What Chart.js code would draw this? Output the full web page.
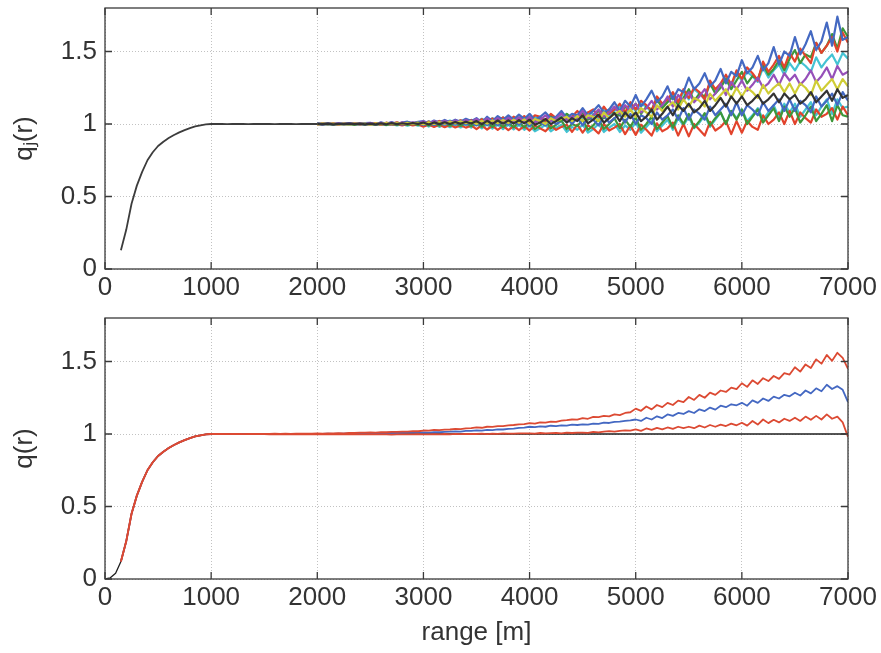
<!DOCTYPE html>
<html>
<head>
<meta charset="utf-8">
<script src="https://cdn.jsdelivr.net/npm/chart.js@4/dist/chart.umd.min.js"></script>
<style>
  html, body { margin: 0; padding: 0; background: #fff; }
  #wrap { position: relative; width: 881px; height: 653px; }
  canvas { position: absolute; left: 0; }
  #topChart { top: 0; }
  #botChart { top: 300px; }
</style>
</head>
<body>
<div id="wrap">
  <canvas id="topChart" width="881" height="320"></canvas>
  <canvas id="botChart" width="881" height="353"></canvas>
</div>
<script>
const xTicks = [0, 1000, 2000, 3000, 4000, 5000, 6000, 7000];
const yTicks = [0, 0.5, 1, 1.5];

// shared rise of all q_j(r), 150 m .. 2000 m
const commonRange = [150,200,250,300,350,400,450,500,550,600,650,700,750,800,850,900,950,1000,
  1050,1100,1150,1200,1250,1300,1350,1400,1450,1500,1550,1600,1650,1700,1750,1800,1850,1900,1950,2000];
const qjCommon = [0.13,0.27,0.45,0.575,0.67,0.75,0.805,0.848,0.878,0.903,0.924,0.942,0.958,0.972,0.983,0.991,0.997,1.0,
  1.0,1.001,0.999,1.0,1.001,1.0,0.999,1.001,1.0,1.0,1.001,0.999,1.0,1.001,1.0,0.999,1.0,1.001,1.0,1.0];

// theoretical q(r)
const theoryRange = [0,50,100,150,200,250,300,350,400,450,500,550,600,650,700,750,800,850,900,950,1000,7000];
const qTheory = [0,0.008,0.04,0.12,0.26,0.45,0.575,0.67,0.75,0.805,0.848,0.878,0.903,0.924,0.942,0.958,0.972,0.983,0.991,0.997,1.0,1.0];

const fineRange = [
  1000,1050,1100,1150,1200,1250,1300,1350,1400,1450,
  1500,1550,1600,1650,1700,1750,1800,1850,1900,1950,
  2000,2050,2100,2150,2200,2250,2300,2350,2400,2450,
  2500,2550,2600,2650,2700,2750,2800,2850,2900,2950,
  3000,3050,3100,3150,3200,3250,3300,3350,3400,3450,
  3500,3550,3600,3650,3700,3750,3800,3850,3900,3950,
  4000,4050,4100,4150,4200,4250,4300,4350,4400,4450,
  4500,4550,4600,4650,4700,4750,4800,4850,4900,4950,
  5000,5050,5100,5150,5200,5250,5300,5350,5400,5450,
  5500,5550,5600,5650,5700,5750,5800,5850,5900,5950,
  6000,6050,6100,6150,6200,6250,6300,6350,6400,6450,
  6500,6550,6600,6650,6700,6750,6800,6850,6900,6950,
  7000];
const noiseRange = fineRange.slice(20); // 2000 .. 7000

// individual q_j(r), 2000 .. 7000 m
const qjBlueHi = [
  1.002,0.997,1.004,0.999,1.005,0.998,1.006,1.001,0.999,1.006,
  1.008,0.998,1.011,1.002,1.013,1.000,1.009,1.016,1.004,1.015,
  1.02,1.003,1.024,1.01,1.028,1.012,1.03,1.015,1.036,1.02,
  1.04,1.01,1.05,1.02,1.055,1.028,1.06,1.03,1.065,1.035,
  1.07,1.03,1.05,1.08,1.04,1.05,1.09,1.04,1.07,1.06,
  1.11,1.06,1.09,1.13,1.08,1.1,1.15,1.09,1.16,1.12,
  1.2,1.12,1.17,1.23,1.15,1.19,1.26,1.17,1.24,1.22,
  1.32,1.24,1.28,1.35,1.26,1.3,1.38,1.28,1.36,1.33,
  1.44,1.35,1.39,1.47,1.37,1.42,1.53,1.41,1.5,1.47,
  1.6,1.48,1.55,1.64,1.51,1.57,1.7,1.54,1.74,1.58,
  1.6];
const qjRedHi = [
  0.998,1.003,0.999,1.004,0.997,1.003,1.001,1.005,0.998,1.004,
  1.001,1.007,0.996,1.009,1.001,1.011,0.999,1.01,1.003,1.012,
  1.0,1.017,1.004,1.021,1.006,1.019,1.009,1.026,1.011,1.028,
  1.01,1.034,1.012,1.038,1.02,1.045,1.018,1.05,1.025,1.055,
  1.02,1.06,1.05,1.02,1.07,1.04,1.08,1.03,1.05,1.09,
  1.05,1.08,1.1,1.05,1.12,1.07,1.1,1.14,1.08,1.15,
  1.1,1.16,1.13,1.09,1.19,1.14,1.17,1.22,1.15,1.24,
  1.18,1.25,1.22,1.17,1.3,1.24,1.28,1.34,1.27,1.37,
  1.31,1.39,1.35,1.3,1.43,1.36,1.41,1.47,1.39,1.49,
  1.43,1.52,1.47,1.42,1.56,1.49,1.54,1.6,1.5,1.63,
  1.56];
const qjGreenHi = [
  1.001,0.998,1.003,0.997,1.002,0.999,1.004,0.998,1.003,0.999,
  1.004,0.995,1.006,0.998,1.007,0.997,1.01,1.0,1.008,1.002,
  1.012,0.998,1.015,1.002,1.018,1.004,1.02,1.006,1.024,1.01,
  1.03,1.0,1.034,1.006,1.038,1.01,1.042,1.014,1.046,1.02,
  1.05,1.01,1.04,1.02,1.06,1.03,1.02,1.07,1.04,1.05,
  1.08,1.03,1.06,1.09,1.04,1.1,1.07,1.06,1.12,1.09,
  1.14,1.07,1.12,1.1,1.17,1.11,1.15,1.19,1.13,1.18,
  1.24,1.16,1.21,1.19,1.28,1.21,1.25,1.31,1.24,1.3,
  1.36,1.28,1.33,1.31,1.41,1.34,1.38,1.44,1.37,1.45,
  1.51,1.42,1.48,1.46,1.56,1.49,1.54,1.62,1.52,1.66,
  1.6];
const qjCyanHi = [
  0.999,1.003,0.998,1.002,1.0,1.004,0.997,1.003,1.001,1.005,
  0.998,1.006,1.0,1.009,0.999,1.01,1.002,1.012,1.003,1.011,
  1.004,1.018,1.005,1.02,1.01,1.024,1.008,1.026,1.012,1.028,
  1.014,1.036,1.016,1.04,1.02,1.045,1.022,1.048,1.026,1.05,
  1.02,1.05,1.04,1.01,1.06,1.03,1.05,1.07,1.03,1.06,
  1.04,1.08,1.07,1.04,1.1,1.06,1.09,1.12,1.07,1.13,
  1.09,1.14,1.12,1.08,1.17,1.13,1.16,1.2,1.14,1.22,
  1.17,1.24,1.21,1.17,1.28,1.23,1.27,1.32,1.26,1.35,
  1.3,1.36,1.33,1.29,1.39,1.32,1.37,1.41,1.34,1.42,
  1.37,1.43,1.4,1.36,1.46,1.39,1.44,1.48,1.41,1.49,
  1.45];
const qjPurple = [
  1.003,0.998,1.002,0.999,1.004,0.997,1.003,1.0,1.005,0.999,
  1.007,0.997,1.008,1.0,1.01,0.999,1.011,1.003,1.012,1.004,
  1.018,1.002,1.02,1.006,1.022,1.008,1.025,1.01,1.027,1.013,
  1.035,1.01,1.038,1.012,1.04,1.015,1.043,1.018,1.045,1.02,
  1.05,1.01,1.03,1.06,1.02,1.04,1.07,1.03,1.05,1.04,
  1.09,1.04,1.06,1.1,1.05,1.08,1.12,1.07,1.13,1.09,
  1.14,1.08,1.11,1.16,1.1,1.13,1.19,1.12,1.2,1.16,
  1.22,1.15,1.19,1.24,1.17,1.21,1.28,1.2,1.29,1.24,
  1.3,1.23,1.27,1.32,1.25,1.28,1.34,1.27,1.35,1.3,
  1.34,1.27,1.31,1.37,1.29,1.33,1.39,1.31,1.4,1.34,
  1.36];
const qjYellow = [
  0.998,1.002,0.999,1.003,0.998,1.001,0.997,1.002,0.999,1.003,
  0.996,1.004,0.997,1.006,0.998,1.007,1.0,1.008,1.001,1.009,
  0.998,1.012,1.0,1.014,1.002,1.016,1.004,1.018,1.005,1.02,
  1.0,1.022,1.003,1.025,1.005,1.028,1.006,1.03,1.008,1.032,
  1.0,1.035,1.02,1.0,1.04,1.02,1.035,1.05,1.02,1.055,
  1.02,1.06,1.05,1.02,1.08,1.04,1.07,1.09,1.05,1.1,
  1.05,1.11,1.08,1.05,1.13,1.09,1.12,1.15,1.1,1.17,
  1.12,1.18,1.16,1.12,1.21,1.16,1.2,1.24,1.18,1.25,
  1.19,1.25,1.22,1.18,1.27,1.21,1.25,1.28,1.22,1.28,
  1.21,1.28,1.25,1.2,1.3,1.23,1.27,1.31,1.24,1.31,
  1.26];
const qjBlack = [
  1.001,0.999,1.002,0.998,1.001,1.0,1.003,0.999,1.002,0.998,
  1.003,0.997,1.004,0.998,1.006,0.999,1.005,1.0,1.007,1.001,
  1.01,0.997,1.011,0.999,1.012,1.0,1.014,1.001,1.016,1.003,
  1.02,0.998,1.022,1.0,1.024,1.002,1.025,1.003,1.026,1.004,
  1.03,0.995,1.01,1.035,1.0,1.02,1.045,1.01,1.04,1.02,
  1.06,1.005,1.03,1.065,1.01,1.04,1.075,1.02,1.08,1.04,
  1.08,1.02,1.05,1.1,1.03,1.07,1.12,1.06,1.13,1.09,
  1.14,1.08,1.11,1.16,1.09,1.13,1.18,1.12,1.19,1.14,
  1.19,1.13,1.16,1.2,1.14,1.17,1.21,1.15,1.21,1.17,
  1.2,1.14,1.17,1.22,1.15,1.19,1.23,1.16,1.24,1.18,
  1.2];
const qjBlueLo = [
  0.999,1.002,0.998,1.001,0.997,1.002,0.999,1.003,0.998,1.001,
  0.997,1.004,0.996,1.005,0.997,1.006,0.996,1.005,0.998,1.006,
  0.993,1.007,0.994,1.009,0.995,1.01,0.996,1.012,0.997,1.013,
  0.99,1.018,0.992,1.02,0.993,1.022,0.995,1.024,0.996,1.026,
  0.985,1.03,1.01,0.99,1.035,1.0,1.02,1.045,1.0,1.045,
  0.99,1.04,1.03,0.99,1.055,1.01,1.04,1.065,1.01,1.07,
  1.0,1.06,1.04,1.0,1.08,1.03,1.06,1.1,1.03,1.11,
  1.03,1.1,1.07,1.03,1.12,1.06,1.1,1.14,1.06,1.15,
  1.06,1.13,1.1,1.06,1.15,1.09,1.13,1.17,1.09,1.17,
  1.09,1.16,1.13,1.08,1.19,1.12,1.16,1.21,1.13,1.22,
  1.16];
const qjGreenLo = [
  1.002,0.998,1.001,0.997,1.002,0.998,1.001,0.996,1.001,0.997,
  1.003,0.995,1.004,0.994,1.003,0.994,1.004,0.993,1.003,0.993,
  1.005,0.99,1.006,0.989,1.007,0.988,1.006,0.987,1.008,0.986,
  1.01,0.982,1.012,0.98,1.013,0.978,1.012,0.977,1.014,0.976,
  1.015,0.965,0.99,1.02,0.97,0.995,1.025,0.965,1.0,0.985,
  1.03,0.96,0.99,1.035,0.965,1.0,1.04,0.97,1.03,0.98,
  1.045,0.96,1.0,1.05,0.965,1.01,1.055,0.975,1.06,1.0,
  1.07,0.975,1.02,1.075,0.99,1.04,1.08,1.0,1.09,1.03,
  1.1,1.0,1.05,1.1,1.01,1.06,1.11,1.02,1.12,1.05,
  1.11,1.01,1.06,1.12,1.02,1.07,1.13,1.02,1.13,1.06,
  1.05];
const qjCyanLo = [
  1.001,0.997,1.002,0.998,1.0,0.996,1.001,0.997,1.0,0.995,
  1.002,0.993,1.001,0.992,1.0,0.99,0.999,0.989,0.998,0.988,
  1.001,0.982,1.0,0.98,0.998,0.978,0.997,0.976,0.996,0.975,
  1.0,0.97,0.998,0.968,0.996,0.965,0.995,0.963,0.993,0.96,
  0.99,0.95,0.97,0.995,0.95,0.975,0.995,0.945,0.98,0.96,
  0.995,0.94,0.965,1.0,0.945,0.975,1.0,0.945,0.99,0.96,
  1.01,0.94,0.98,1.02,0.95,0.99,1.03,0.96,1.04,0.99,
  1.05,0.97,1.01,1.06,0.98,1.03,1.08,1.0,1.09,1.04,
  1.1,1.02,1.06,1.11,1.03,1.08,1.13,1.04,1.14,1.08,
  1.14,1.05,1.1,1.15,1.06,1.12,1.17,1.07,1.17,1.11,
  1.12];
const qjRedLo = [
  0.999,1.002,0.997,1.001,0.998,1.002,0.996,1.0,0.997,1.001,
  0.995,1.002,0.994,1.0,0.993,0.999,0.991,0.998,0.99,0.997,
  0.982,0.996,0.98,0.995,0.978,0.994,0.976,0.992,0.975,0.99,
  0.965,0.99,0.962,0.988,0.96,0.987,0.958,0.985,0.957,0.985,
  0.955,0.99,0.97,0.95,0.99,0.96,0.98,0.995,0.945,0.995,
  0.94,0.99,0.97,0.935,1.0,0.955,0.975,1.0,0.93,0.99,
  0.925,0.995,0.96,0.92,1.005,0.95,0.97,1.01,0.92,1.0,
  0.915,1.0,0.96,0.92,1.015,0.955,0.98,1.02,0.93,1.02,
  0.94,1.02,0.98,0.96,1.06,1.0,1.03,1.08,1.0,1.09,
  1.0,1.08,1.04,1.01,1.1,1.05,1.07,1.11,1.03,1.12,
  1.06];

// estimated q(r) with bounds, 1000 .. 7000 m
const qUpper = [
  1.0,1.0,1.001,0.999,1.0,1.001,0.999,1.0,1.001,1.0,
  1.001,1.0,1.002,1.001,1.002,1.001,1.003,1.002,1.003,1.002,
  1.004,1.003,1.005,1.004,1.006,1.005,1.008,1.007,1.009,1.009,
  1.011,1.01,1.013,1.012,1.015,1.014,1.017,1.017,1.02,1.019,
  1.024,1.023,1.028,1.026,1.03,1.031,1.035,1.034,1.039,1.04,
  1.045,1.043,1.05,1.049,1.055,1.054,1.06,1.062,1.066,1.068,
  1.075,1.071,1.08,1.079,1.086,1.083,1.092,1.095,1.1,1.099,
  1.11,1.105,1.118,1.116,1.125,1.122,1.135,1.13,1.145,1.15,
  1.175,1.16,1.19,1.17,1.2,1.185,1.215,1.2,1.23,1.22,
  1.255,1.235,1.27,1.25,1.285,1.27,1.3,1.29,1.32,1.31,
  1.35,1.325,1.37,1.345,1.385,1.365,1.4,1.38,1.42,1.41,
  1.46,1.43,1.48,1.455,1.515,1.485,1.545,1.505,1.56,1.525,
  1.45];
const qMean = [
  1.0,0.999,1.0,1.0,0.999,1.0,1.001,0.999,1.0,1.0,
  0.999,1.0,1.0,0.999,1.001,1.0,1.0,1.001,1.0,1.001,
  1.001,1.0,1.002,1.001,1.003,1.002,1.004,1.003,1.005,1.004,
  1.005,1.004,1.006,1.006,1.007,1.007,1.008,1.009,1.009,1.01,
  1.011,1.01,1.013,1.012,1.015,1.016,1.018,1.017,1.021,1.022,
  1.025,1.023,1.028,1.027,1.032,1.031,1.036,1.037,1.042,1.044,
  1.05,1.047,1.053,1.05,1.057,1.055,1.06,1.058,1.064,1.062,
  1.066,1.064,1.072,1.07,1.078,1.076,1.083,1.085,1.09,1.094,
  1.1,1.09,1.112,1.1,1.122,1.11,1.135,1.125,1.145,1.138,
  1.158,1.145,1.17,1.158,1.182,1.168,1.195,1.185,1.205,1.198,
  1.215,1.195,1.232,1.215,1.245,1.228,1.258,1.245,1.27,1.26,
  1.285,1.265,1.3,1.28,1.315,1.295,1.34,1.31,1.33,1.305,
  1.22];
const qLower = [
  1.0,1.0,0.999,1.0,0.999,1.0,0.999,0.999,1.0,0.999,
  0.999,0.998,0.999,0.998,0.999,0.998,0.998,0.999,0.998,0.998,
  0.998,0.997,0.998,0.997,0.998,0.997,0.997,0.998,0.997,0.998,
  0.997,0.998,0.997,0.998,0.996,0.998,0.997,0.998,0.997,0.999,
  0.998,0.997,0.999,0.998,1.0,0.998,1.001,0.999,1.0,1.001,
  1.0,1.002,0.999,1.003,1.001,1.004,1.002,1.003,1.005,1.004,
  1.005,1.003,1.007,1.004,1.006,1.008,1.005,1.009,1.007,1.01,
  1.01,1.008,1.014,1.011,1.017,1.02,1.016,1.022,1.025,1.023,
  1.032,1.022,1.038,1.028,1.042,1.032,1.045,1.035,1.05,1.04,
  1.05,1.04,1.058,1.045,1.062,1.05,1.065,1.055,1.072,1.06,
  1.078,1.058,1.09,1.065,1.1,1.075,1.098,1.08,1.105,1.09,
  1.112,1.09,1.12,1.098,1.125,1.1,1.135,1.105,1.12,1.08,
  0.98];

const BLUE = '#4469c2', RED = '#e2432c', GREEN = '#3d973a', PURPLE = '#9650b9',
      CYAN = '#44c3d3', YELLOW = '#cfcd35', BLACK = '#333333';

const FONT = "'Liberation Sans',Arial,Helvetica,sans-serif";
const tickFont = { family: FONT, size: 26 };
const textColor = '#333333';

function pts(xs, ys) { return xs.map((x, i) => ({ x: x, y: ys[i] })); }

const framePlugin = {
  id: 'frame',
  afterDraw(chart) {
    const { ctx, chartArea: a, scales: { x, y } } = chart;
    ctx.save();
    ctx.strokeStyle = '#3a3a3a';
    ctx.lineWidth = 1.3;
    ctx.strokeRect(a.left, a.top, a.right - a.left, a.bottom - a.top);
    ctx.beginPath();
    xTicks.forEach(v => {
      const px = x.getPixelForValue(v);
      ctx.moveTo(px, a.bottom); ctx.lineTo(px, a.bottom - 7);
      ctx.moveTo(px, a.top); ctx.lineTo(px, a.top + 7);
    });
    yTicks.forEach(v => {
      const py = y.getPixelForValue(v);
      ctx.moveTo(a.left, py); ctx.lineTo(a.left + 7, py);
      ctx.moveTo(a.right, py); ctx.lineTo(a.right - 7, py);
    });
    ctx.stroke();
    ctx.restore();
  }
};

function makeScales(yTitle, xTitle, xHeight) {
  return {
    x: {
      type: 'linear', min: 0, max: 7000,
      afterBuildTicks: s => { s.ticks = xTicks.map(v => ({ value: v })); },
      afterFit: s => { s.height = xHeight; s.paddingLeft = 0; s.paddingRight = 0; },
      grid: { color: '#c2c2c2', lineWidth: 1, drawTicks: false },
      border: { display: false, dash: [1, 2] },
      ticks: { color: textColor, font: tickFont, padding: 3, maxRotation: 0, callback: v => String(v) },
      title: { display: !!xTitle, text: xTitle || '', color: textColor, font: tickFont, padding: { top: 0, bottom: 5 } }
    },
    y: {
      min: 0, max: 1.8,
      afterBuildTicks: s => { s.ticks = yTicks.map(v => ({ value: v })); },
      afterFit: s => { s.width = 105; s.paddingTop = 0; s.paddingBottom = 0; },
      grid: { color: '#c2c2c2', lineWidth: 1, drawTicks: false },
      border: { display: false, dash: [1, 2] },
      ticks: { color: textColor, font: tickFont, padding: 8, callback: v => String(v) },
      title: { display: true, text: yTitle, color: textColor, font: tickFont, padding: { top: 9, bottom: 0 } }
    }
  };
}

const baseOptions = {
  responsive: false,
  animation: false,
  devicePixelRatio: 1,
  events: [],
  plugins: { legend: { display: false }, tooltip: { enabled: false } },
  elements: { point: { radius: 0 }, line: { tension: 0, borderJoinStyle: 'round', fill: false } }
};

const topSeries = [
  { q: qjBlack, c: BLACK },
  { q: qjYellow, c: YELLOW },
  { q: qjPurple, c: PURPLE },
  { q: qjBlueHi, c: BLUE },
  { q: qjRedHi, c: RED },
  { q: qjGreenHi, c: GREEN },
  { q: qjCyanHi, c: CYAN },
  { q: qjBlueLo, c: BLUE },
  { q: qjGreenLo, c: GREEN },
  { q: qjRedLo, c: RED },
  { q: qjCyanLo, c: CYAN }
];

new Chart(document.getElementById('topChart'), {
  type: 'line',
  data: {
    datasets: [
      { data: pts(commonRange, qjCommon), borderColor: '#3c3c3c', borderWidth: 1.8 },
      ...topSeries.map(s => ({ data: pts(noiseRange, s.q), borderColor: s.c, borderWidth: 2.2 }))
    ]
  },
  options: Object.assign({}, baseOptions, {
    layout: { padding: { left: 0, right: 33, top: 8, bottom: 0 } },
    scales: makeScales('qⱼ(r)', null, 51)
  }),
  plugins: [framePlugin]
});

const estRange = theoryRange.slice(3, 20).concat(fineRange);
const riseQ = qTheory.slice(3, 20);

new Chart(document.getElementById('botChart'), {
  type: 'line',
  data: {
    datasets: [
      { data: pts(estRange, riseQ.concat(qUpper)), borderColor: '#dc4a33', borderWidth: 1.8 },
      { data: pts(estRange, riseQ.concat(qLower)), borderColor: '#dc4a33', borderWidth: 1.8 },
      { data: pts(estRange, riseQ.concat(qMean)), borderColor: '#4468c2', borderWidth: 1.8 },
      { data: pts(theoryRange, qTheory), borderColor: '#1e1e1e', borderWidth: 1.3 }
    ]
  },
  options: Object.assign({}, baseOptions, {
    layout: { padding: { left: 0, right: 33, top: 18, bottom: 0 } },
    scales: makeScales('q(r)', 'range [m]', 74)
  }),
  plugins: [framePlugin]
});
</script>
</body>
</html>
